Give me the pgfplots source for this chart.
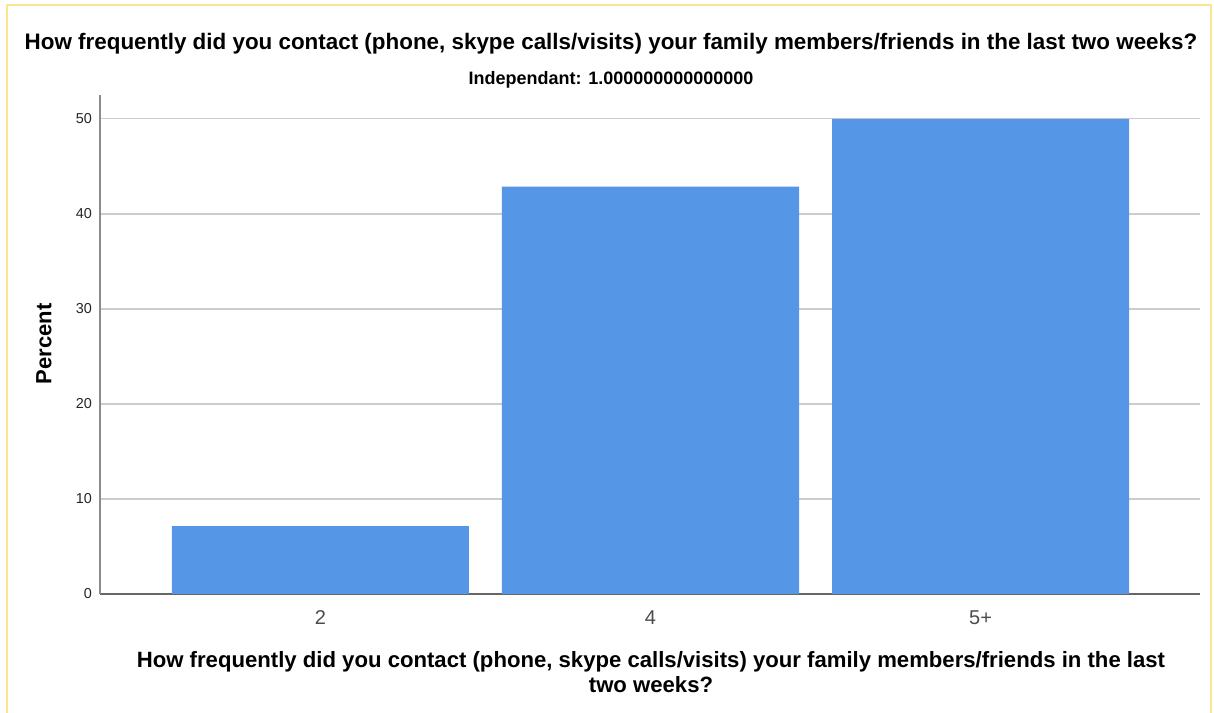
\documentclass[border=0pt]{standalone}
\usepackage{pgfplots}
\pgfplotsset{compat=1.18}
\usepackage{fontspec}
\setmainfont{Liberation Sans}
\definecolor{barblue}{HTML}{5596E6}
\definecolor{frameyellow}{HTML}{FBE58E}
\definecolor{gridgray}{HTML}{CCCCCC}
\begin{document}
\begin{tikzpicture}
\path[use as bounding box] (0pt,0pt) rectangle (910.5pt,534.75pt);
\fill[white] (0pt,0pt) rectangle (910.5pt,534.75pt);
\draw[frameyellow, line width=1.8pt] (5.25pt,0pt) -- (5.25pt,531pt) -- (908.25pt,531pt) -- (908.25pt,0pt);
\node[font=\bfseries\fontsize{16.8}{19}\selectfont, anchor=center, inner sep=0pt] at (458.25pt,501.75pt) {How frequently did you contact (phone, skype calls/visits) your family members/friends in the last two weeks?};
\node[font=\bfseries\fontsize{13.5}{15}\selectfont, anchor=center, inner sep=0pt] at (458.25pt,474.75pt) {Independant: 1.000000000000000};
\node[font=\bfseries\fontsize{16.5}{19}\selectfont, rotate=90, anchor=center, inner sep=0pt] at (33pt,277pt) {Percent};
\node[font=\bfseries\fontsize{16.6}{19}\selectfont, anchor=center, inner sep=0pt] at (488.25pt,38.25pt) {How frequently did you contact (phone, skype calls/visits) your family members/friends in the last};
\node[font=\bfseries\fontsize{16.6}{19}\selectfont, anchor=center, inner sep=0pt] at (488.25pt,21pt) {two weeks?};
\begin{axis}[
  at={(75pt,89.25pt)}, anchor=south west,
  scale only axis,
  width=825pt, height=374.25pt,
  xmin=-0.668, xmax=2.665,
  ymin=0, ymax=52.5,
  axis x line=bottom, axis y line=left,
  x axis line style={-, draw=black!60, line width=1.1pt},
  y axis line style={-, draw=black!45, line width=1.1pt},
  xtick={0,1,2}, xticklabels={2,4,5+},
  ytick={0,10,20,30,40,50},
  major tick length=0pt,
  ymajorgrids,
  grid style={draw=gridgray, line width=1.1pt},
  xticklabel style={font=\fontsize{15}{17}\selectfont, text=black!70, yshift=-9pt},
  yticklabel style={font=\fontsize{10.8}{12}\selectfont, text=black!85, xshift=-2.5pt},
  /pgf/number format/assume math mode=true,
  clip=false,
]
\addplot[ybar, bar width=0.9, fill=barblue, draw=none] coordinates {(0,7.14) (1,42.86) (2,50)};
\end{axis}
\end{tikzpicture}
\end{document}
